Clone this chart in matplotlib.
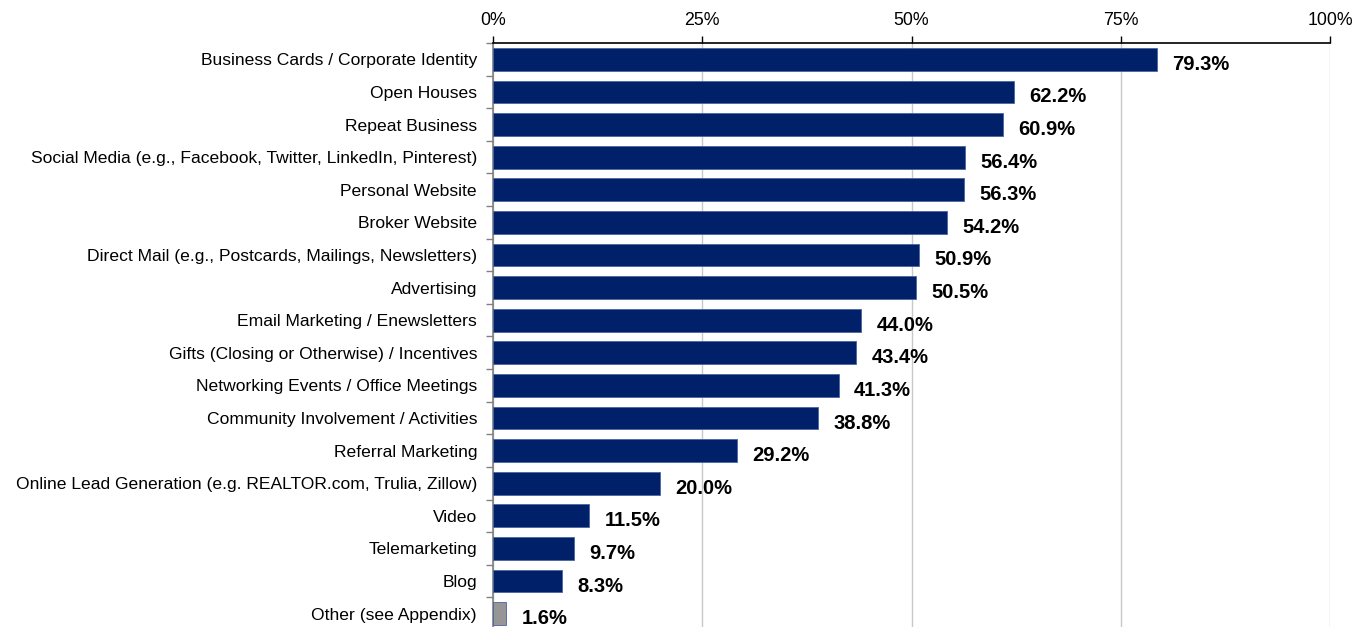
import matplotlib
matplotlib.use("Agg")
import matplotlib.pyplot as plt
from matplotlib.ticker import FixedLocator

categories = [
    "Business Cards / Corporate Identity",
    "Open Houses",
    "Repeat Business",
    "Social Media (e.g., Facebook, Twitter, LinkedIn, Pinterest)",
    "Personal Website",
    "Broker Website",
    "Direct Mail (e.g., Postcards, Mailings, Newsletters)",
    "Advertising",
    "Email Marketing / Enewsletters",
    "Gifts (Closing or Otherwise) / Incentives",
    "Networking Events / Office Meetings",
    "Community Involvement / Activities",
    "Referral Marketing",
    "Online Lead Generation (e.g. REALTOR.com, Trulia, Zillow)",
    "Video",
    "Telemarketing",
    "Blog",
    "Other (see Appendix)",
]
values = [79.3, 62.2, 60.9, 56.4, 56.3, 54.2, 50.9, 50.5, 44.0, 43.4,
          41.3, 38.8, 29.2, 20.0, 11.5, 9.7, 8.3, 1.6]
x_ticks = [0, 25, 50, 75, 100]
x_tick_labels = ["0%", "25%", "50%", "75%", "100%"]

navy = "#002169"
grey = "#969696"
colors = [navy] * (len(values) - 1) + [grey]

plt.rcParams["font.family"] = ["Liberation Sans", "DejaVu Sans"]

fig = plt.figure(figsize=(13.54, 6.27), dpi=100)
ax = fig.add_axes([493 / 1354, 1 - 630 / 627, (1330 - 493) / 1354, (630 - 43) / 627])

ypos = list(range(len(categories)))
ax.barh(ypos, values, height=0.7, color=colors, edgecolor="#4a64a0",
        linewidth=0.6, zorder=3)

for y, v in zip(ypos, values):
    ax.annotate(f"{v:.1f}%", xy=(v, y), xytext=(11, -3.6),
                textcoords="offset points", va="center", ha="left",
                fontsize=14.5, fontweight="bold", color="black", zorder=4,
                annotation_clip=False)

ax.set_xlim(0, 100)
ax.set_ylim(len(categories) - 0.5, -0.5)

ax.xaxis.tick_top()
ax.set_xticks(x_ticks)
ax.set_xticklabels(x_tick_labels, fontsize=12.8)
ax.tick_params(axis="x", direction="out", length=5, width=1, color="black", pad=5)

ax.set_yticks(ypos)
ax.set_yticklabels(categories, fontsize=12.6)
ax.tick_params(axis="y", which="major", length=0, pad=11.5)
ax.yaxis.set_minor_locator(FixedLocator([i - 0.5 for i in range(len(categories) + 1)]))
ax.tick_params(axis="y", which="minor", direction="out", length=5, width=1, color="#808080")

ax.grid(axis="x", color="#c8c8c8", linewidth=1, zorder=0)
ax.set_axisbelow(True)

for side in ["right", "bottom"]:
    ax.spines[side].set_visible(False)
ax.spines["top"].set_color("black")
ax.spines["top"].set_linewidth(1.2)
ax.spines["left"].set_color("#808080")
ax.spines["left"].set_linewidth(1.2)

fig.savefig("out.png", dpi=100)
